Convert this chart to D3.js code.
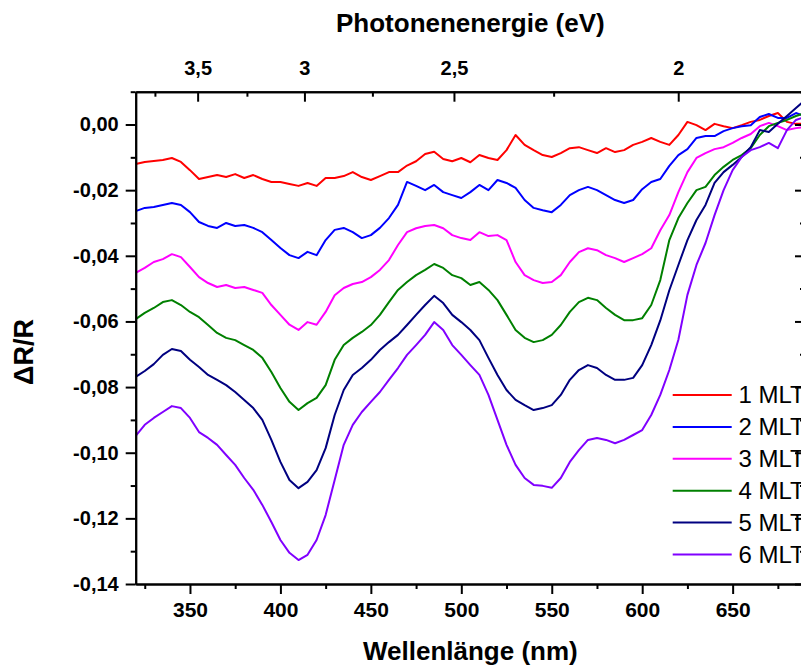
<!DOCTYPE html>
<html>
<head>
<meta charset="utf-8">
<script src="https://cdn.jsdelivr.net/npm/d3@7"></script>
<style>
  html, body { margin: 0; padding: 0; background: #fff; }
  svg { display: block; }
  text { font-family: "Liberation Sans", Arial, Helvetica, sans-serif; fill: #000; }
</style>
</head>
<body>
<svg id="chart" width="801" height="666"></svg>
<script>
// Wavelength grid (nm), 5 nm steps
const wavelength = d3.range(320, 691, 5);

// ΔR/R spectra for increasing film thickness
const ml1 = [-0.0120,-0.0114,-0.0111,-0.0108,-0.0102,-0.0114,-0.0139,-0.0166,-0.0160,-0.0154,
  -0.0160,-0.0151,-0.0163,-0.0154,-0.0166,-0.0175,-0.0175,-0.0181,-0.0187,-0.0178,
  -0.0187,-0.0163,-0.0163,-0.0157,-0.0145,-0.0160,-0.0169,-0.0157,-0.0145,-0.0145,
  -0.0125,-0.0112,-0.0090,-0.0083,-0.0105,-0.0112,-0.0102,-0.0115,-0.0093,-0.0102,
  -0.0108,-0.0078,-0.0032,-0.0062,-0.0078,-0.0093,-0.0099,-0.0087,-0.0072,-0.0069,
  -0.0078,-0.0087,-0.0072,-0.0084,-0.0078,-0.0062,-0.0053,-0.0041,-0.0053,-0.0062,
  -0.0032,0.0008,-0.0002,-0.0017,0.0002,-0.0005,-0.0011,-0.0002,0.0008,0.0014,
  0.0026,0.0035,0.0008,0.0002,0.0002];
const ml2 = [-0.0264,-0.0254,-0.0251,-0.0245,-0.0239,-0.0245,-0.0267,-0.0297,-0.0309,-0.0315,
  -0.0300,-0.0309,-0.0306,-0.0315,-0.0328,-0.0352,-0.0376,-0.0398,-0.0407,-0.0388,
  -0.0398,-0.0352,-0.0321,-0.0315,-0.0328,-0.0346,-0.0337,-0.0315,-0.0285,-0.0245,
  -0.0175,-0.0187,-0.0200,-0.0184,-0.0206,-0.0215,-0.0224,-0.0206,-0.0184,-0.0200,
  -0.0169,-0.0178,-0.0193,-0.0230,-0.0254,-0.0261,-0.0267,-0.0245,-0.0215,-0.0200,
  -0.0190,-0.0200,-0.0215,-0.0230,-0.0239,-0.0230,-0.0197,-0.0175,-0.0166,-0.0126,
  -0.0093,-0.0075,-0.0041,-0.0035,-0.0035,-0.0020,-0.0011,-0.0005,-0.0002,0.0023,
  0.0032,0.0020,0.0020,0.0035,0.0026];
const ml3 = [-0.0452,-0.0437,-0.0419,-0.0410,-0.0395,-0.0404,-0.0434,-0.0465,-0.0483,-0.0495,
  -0.0489,-0.0498,-0.0495,-0.0504,-0.0513,-0.0550,-0.0580,-0.0610,-0.0626,-0.0602,
  -0.0610,-0.0571,-0.0520,-0.0498,-0.0486,-0.0480,-0.0465,-0.0443,-0.0413,-0.0367,
  -0.0328,-0.0316,-0.0309,-0.0306,-0.0316,-0.0337,-0.0346,-0.0352,-0.0328,-0.0340,
  -0.0337,-0.0352,-0.0419,-0.0459,-0.0474,-0.0483,-0.0480,-0.0459,-0.0419,-0.0389,
  -0.0377,-0.0383,-0.0398,-0.0407,-0.0419,-0.0407,-0.0395,-0.0377,-0.0322,-0.0276,
  -0.0206,-0.0145,-0.0102,-0.0087,-0.0075,-0.0069,-0.0056,-0.0041,-0.0029,-0.0005,
  0.0005,-0.0005,-0.0017,-0.0011,-0.0008];
const ml4 = [-0.0593,-0.0574,-0.0559,-0.0541,-0.0535,-0.0550,-0.0571,-0.0587,-0.0611,-0.0635,
  -0.0650,-0.0657,-0.0672,-0.0687,-0.0711,-0.0754,-0.0803,-0.0845,-0.0870,-0.0849,
  -0.0833,-0.0794,-0.0717,-0.0672,-0.0650,-0.0632,-0.0611,-0.0580,-0.0541,-0.0504,
  -0.0480,-0.0459,-0.0443,-0.0425,-0.0437,-0.0459,-0.0468,-0.0489,-0.0480,-0.0504,
  -0.0535,-0.0580,-0.0626,-0.0650,-0.0663,-0.0657,-0.0641,-0.0611,-0.0571,-0.0541,
  -0.0528,-0.0535,-0.0559,-0.0580,-0.0596,-0.0596,-0.0590,-0.0550,-0.0474,-0.0352,
  -0.0285,-0.0239,-0.0200,-0.0190,-0.0154,-0.0129,-0.0108,-0.0093,-0.0072,-0.0032,
  -0.0005,0.0005,0.0014,0.0026,0.0035];
const ml5 = [-0.0769,-0.0751,-0.0730,-0.0702,-0.0684,-0.0690,-0.0717,-0.0739,-0.0763,-0.0778,
  -0.0794,-0.0815,-0.0839,-0.0864,-0.0900,-0.0961,-0.1028,-0.1083,-0.1108,-0.1089,
  -0.1053,-0.0986,-0.0885,-0.0809,-0.0763,-0.0742,-0.0717,-0.0687,-0.0663,-0.0641,
  -0.0611,-0.0580,-0.0550,-0.0522,-0.0544,-0.0580,-0.0602,-0.0626,-0.0657,-0.0711,
  -0.0763,-0.0809,-0.0839,-0.0855,-0.0870,-0.0864,-0.0855,-0.0824,-0.0778,-0.0748,
  -0.0733,-0.0742,-0.0763,-0.0778,-0.0778,-0.0772,-0.0733,-0.0672,-0.0597,-0.0505,
  -0.0428,-0.0352,-0.0291,-0.0245,-0.0178,-0.0145,-0.0123,-0.0099,-0.0069,-0.0017,
  -0.0023,0.0002,0.0026,0.0050,0.0075];
const ml6 = [-0.0949,-0.0915,-0.0894,-0.0876,-0.0858,-0.0864,-0.0894,-0.0937,-0.0955,-0.0976,
  -0.1007,-0.1037,-0.1077,-0.1113,-0.1159,-0.1211,-0.1266,-0.1305,-0.1327,-0.1311,
  -0.1266,-0.1190,-0.1083,-0.0976,-0.0915,-0.0876,-0.0845,-0.0815,-0.0778,-0.0742,
  -0.0702,-0.0672,-0.0641,-0.0602,-0.0626,-0.0672,-0.0702,-0.0733,-0.0763,-0.0824,
  -0.0900,-0.0976,-0.1037,-0.1077,-0.1098,-0.1101,-0.1107,-0.1077,-0.1028,-0.0992,
  -0.0961,-0.0955,-0.0961,-0.0971,-0.0961,-0.0946,-0.0931,-0.0885,-0.0824,-0.0748,
  -0.0656,-0.0519,-0.0428,-0.0361,-0.0276,-0.0200,-0.0139,-0.0099,-0.0078,-0.0069,
  -0.0056,-0.0072,-0.0017,0.0014,0.0023];

const seriesNames = ["1 MLT", "2 MLT", "3 MLT", "4 MLT", "5 MLT", "6 MLT"];
const seriesValues = [ml1, ml2, ml3, ml4, ml5, ml6];
const seriesColors = ["#ff0000", "#0000ff", "#ff00ff", "#008000", "#000080", "#8000ff"];

// Axis ticks
const xMajor = [350, 400, 450, 500, 550, 600, 650];
const xMinor = [325, 375, 425, 475, 525, 575, 625, 675];
const yMajor = [0, -0.02, -0.04, -0.06, -0.08, -0.10, -0.12, -0.14];
const yMinor = [0.01, -0.01, -0.03, -0.05, -0.07, -0.09, -0.11, -0.13];
const eMajor = [3.5, 3, 2.5, 2];
const eMinor = [3.75, 3.25, 2.75, 2.25];
const HC = 1239.84; // eV·nm

const svg = d3.select("#chart");
const W = 801, H = 666;
svg.append("rect").attr("width", W).attr("height", H).attr("fill", "#fff");

const plot = { left: 135.7, right: 805, top: 91.7, bottom: 584 };

const x = d3.scaleLinear().domain([320, 690]).range([plot.left, plot.right]);
const y = d3.scaleLinear().domain([-0.14, 0.01]).range([plot.bottom, plot.top]);

// Photon energy scale: E -> position of the matching wavelength
function eScale(e) { return x(HC / e); }
eScale.copy = () => eScale;
eScale.range = () => x.range();
eScale.domain = () => x.domain().map(l => HC / l);

const comma = s => s.replace(".", ",");
const fmtY = d => comma(d3.format(".2f")(d)).replace("−", "-");
const fmtE = d => comma(String(+d.toFixed(2)));

// Curves
svg.append("clipPath").attr("id", "clip")
  .append("rect").attr("x", plot.left).attr("y", plot.top)
  .attr("width", plot.right - plot.left).attr("height", plot.bottom - plot.top);

const line = d3.line()
  .x((d, i) => x(wavelength[i]))
  .y(d => y(d));

svg.append("g").attr("clip-path", "url(#clip)")
  .selectAll("path").data(seriesValues).join("path")
  .attr("d", d => line(d))
  .attr("fill", "none")
  .attr("stroke", (d, i) => seriesColors[i])
  .attr("stroke-width", 2)
  .attr("stroke-linejoin", "round");

// Axes
function styleAxis(g, fontSize) {
  g.select(".domain").attr("stroke", "#000").attr("stroke-width", 2);
  g.selectAll(".tick line").attr("stroke", "#000").attr("stroke-width", 2);
  g.selectAll(".tick text")
    .attr("font-size", fontSize).attr("font-weight", "bold")
    .attr("font-family", "'Liberation Sans', Arial, sans-serif").attr("fill", "#000");
}

// bottom (wavelength)
svg.append("g").attr("transform", `translate(0,${plot.bottom})`)
  .call(d3.axisBottom(x).tickValues(xMinor).tickSize(5).tickSizeOuter(0).tickFormat(""))
  .call(g => styleAxis(g, 21));
svg.append("g").attr("transform", `translate(0,${plot.bottom})`)
  .call(d3.axisBottom(x).tickValues(xMajor).tickSize(10).tickSizeOuter(0).tickPadding(8).tickFormat(d3.format("d")))
  .call(g => styleAxis(g, 21));

// left (ΔR/R)
svg.append("g").attr("transform", `translate(${plot.left},0)`)
  .call(d3.axisLeft(y).tickValues(yMinor).tickSize(5).tickSizeOuter(0).tickFormat(""))
  .call(g => styleAxis(g, 20));
svg.append("g").attr("transform", `translate(${plot.left},0)`)
  .call(d3.axisLeft(y).tickValues(yMajor).tickSize(10).tickSizeOuter(0).tickPadding(7).tickFormat(fmtY))
  .call(g => styleAxis(g, 20));

// right (mirror, ticks pointing inward)
svg.append("g").attr("transform", `translate(${plot.right},0)`)
  .call(d3.axisRight(y).tickValues(yMinor).tickSize(-5).tickSizeOuter(0).tickFormat(""))
  .call(g => styleAxis(g, 20));
svg.append("g").attr("transform", `translate(${plot.right},0)`)
  .call(d3.axisRight(y).tickValues(yMajor).tickSize(-10).tickSizeOuter(0).tickFormat(""))
  .call(g => styleAxis(g, 20));

// top (photon energy, ticks pointing inward)
svg.append("g").attr("transform", `translate(0,${plot.top})`)
  .call(d3.axisTop(eScale).tickValues(eMinor).tickSize(-5).tickSizeOuter(0).tickFormat(""))
  .call(g => styleAxis(g, 20));
svg.append("g").attr("transform", `translate(0,${plot.top})`)
  .call(d3.axisTop(eScale).tickValues(eMajor).tickSize(-10).tickSizeOuter(0).tickPadding(16.5).tickFormat(fmtE))
  .call(g => styleAxis(g, 20));

// Axis titles
const cx = (plot.left + plot.right) / 2;
svg.append("text").attr("x", cx).attr("y", 32).attr("text-anchor", "middle")
  .attr("font-size", 26).attr("font-weight", "bold").text("Photonenenergie (eV)");
svg.append("text").attr("x", cx).attr("y", 660).attr("text-anchor", "middle")
  .attr("font-size", 26).attr("font-weight", "bold").text("Wellenlänge (nm)");
svg.append("text").attr("transform", "translate(33,352) rotate(-90)").attr("text-anchor", "middle")
  .attr("font-size", 27).attr("font-weight", "bold").text("ΔR/R");

// Legend
const legend = svg.append("g").attr("transform", "translate(672.7,395)");
const rows = legend.selectAll("g").data(seriesNames).join("g")
  .attr("transform", (d, i) => `translate(0,${i * 31.9})`);
rows.append("line").attr("x1", 0).attr("x2", 59).attr("y1", 0).attr("y2", 0)
  .attr("stroke", (d, i) => seriesColors[i]).attr("stroke-width", 2);
rows.append("text").attr("x", 65.7).attr("y", 8.3)
  .attr("font-size", 24).text(d => d);
</script>
</body>
</html>
